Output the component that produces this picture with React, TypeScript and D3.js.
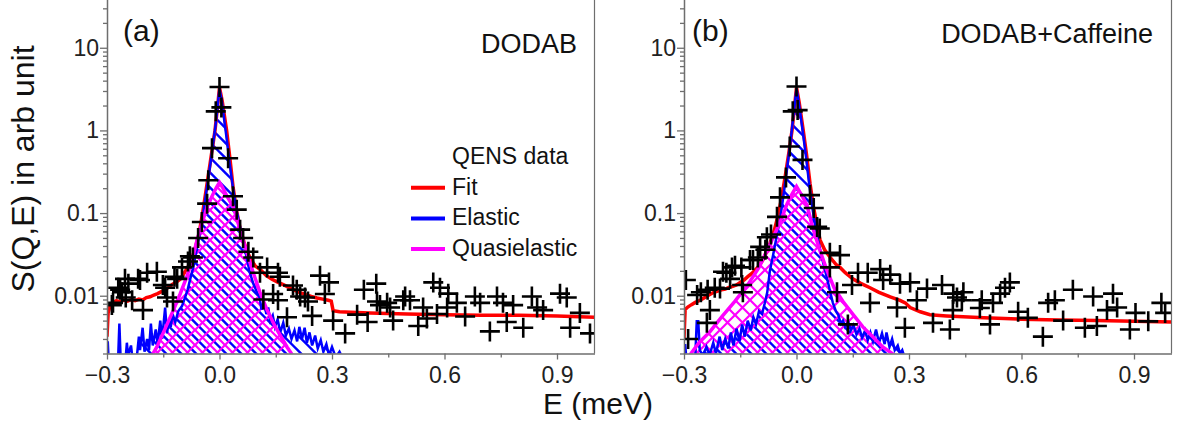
import React, { useRef, useEffect } from "react";
import * as d3 from "d3";

type Pt = [number, number];

const panelTags = ["(a)", "(b)"];
const sampleNames = ["DODAB", "DODAB+Caffeine"];
const legendLabels = ["QENS data", "Fit", "Elastic", "Quasielastic"];
const xTicks = [-0.3, 0, 0.3, 0.6, 0.9];
const xMinorTicks = [-0.15, 0.15, 0.45, 0.75];
const yTicks = [0.01, 0.1, 1, 10];
const yTickLabels = ["0.01", "0.1", "1", "10"];

// (a) DODAB  -- [E (meV), S(Q,E)]
const dataA: Pt[] = [
  [-0.287, 0.0077], [-0.284, 0.0082], [-0.27, 0.0125], [-0.265, 0.0118], [-0.26, 0.011], [-0.252, 0.016],
  [-0.25, 0.0095], [-0.243, 0.014], [-0.233, 0.0088], [-0.217, 0.016], [-0.212, 0.0155], [-0.204, 0.0067],
  [-0.193, 0.019], [-0.167, 0.0195], [-0.151, 0.0135], [-0.145, 0.0125], [-0.14, 0.0095], [-0.124, 0.0085],
  [-0.12, 0.017], [-0.113, 0.016], [-0.1, 0.022], [-0.084, 0.026], [-0.079, 0.03], [-0.071, 0.029],
  [-0.057, 0.05], [-0.047, 0.078], [-0.033, 0.13], [-0.03, 0.25], [-0.02, 0.61], [-0.01, 1.7],
  [0, 3.35], [0.005, 1.9], [0.023, 0.46], [0.036, 0.16], [0.046, 0.11], [0.055, 0.063],
  [0.063, 0.05], [0.077, 0.034], [0.09, 0.029], [0.108, 0.019], [0.117, 0.009], [0.127, 0.022],
  [0.143, 0.0105], [0.156, 0.019], [0.161, 0.017], [0.156, 0.0088], [0.18, 0.0055], [0.196, 0.0133],
  [0.206, 0.0118], [0.215, 0.0098], [0.228, 0.0095], [0.236, 0.0085], [0.247, 0.0057], [0.268, 0.0175],
  [0.281, 0.0105], [0.292, 0.0145], [0.303, 0.005], [0.335, 0.0035], [0.367, 0.0059], [0.385, 0.0118],
  [0.395, 0.0048], [0.418, 0.014], [0.42, 0.0085], [0.428, 0.0077], [0.447, 0.0082], [0.455, 0.0072],
  [0.463, 0.005], [0.49, 0.0088], [0.495, 0.0098], [0.508, 0.0088], [0.53, 0.0043], [0.543, 0.0072],
  [0.553, 0.0053], [0.57, 0.0145], [0.58, 0.006], [0.588, 0.0125], [0.607, 0.0072], [0.61, 0.0106],
  [0.633, 0.0082], [0.655, 0.0056], [0.681, 0.0098], [0.695, 0.0082], [0.721, 0.0037], [0.74, 0.0098],
  [0.756, 0.0082], [0.766, 0.0048], [0.783, 0.0077], [0.81, 0.0041], [0.833, 0.0098], [0.847, 0.0072],
  [0.863, 0.0067], [0.908, 0.0106], [0.926, 0.0095], [0.935, 0.0041], [0.961, 0.0062], [0.988, 0.0035],
];

const fitA: Pt[] = [
  [-0.3, 0.0032], [-0.297, 0.0062], [-0.292, 0.0075], [-0.285, 0.0082], [-0.275, 0.0087], [-0.265, 0.0084],
  [-0.255, 0.0089], [-0.245, 0.0086], [-0.235, 0.009], [-0.225, 0.0087], [-0.215, 0.0091], [-0.205, 0.0089],
  [-0.195, 0.0095], [-0.185, 0.0097], [-0.175, 0.0102], [-0.165, 0.0106], [-0.155, 0.0112], [-0.145, 0.0119],
  [-0.135, 0.0127], [-0.125, 0.0138], [-0.115, 0.0146], [-0.105, 0.0158], [-0.095, 0.0185], [-0.085, 0.022],
  [-0.075, 0.027], [-0.065, 0.037], [-0.055, 0.055], [-0.045, 0.1], [-0.035, 0.2], [-0.025, 0.4],
  [-0.012, 1.0], [-0.006, 1.8], [0, 3.3], [0.007, 2.3], [0.019, 1.0], [0.028, 0.45],
  [0.036, 0.21], [0.045, 0.11], [0.055, 0.065], [0.065, 0.045], [0.075, 0.033], [0.085, 0.027],
  [0.095, 0.023], [0.11, 0.0205], [0.125, 0.0175], [0.14, 0.0158], [0.155, 0.0146], [0.17, 0.0136],
  [0.185, 0.0126], [0.2, 0.0117], [0.215, 0.0109], [0.23, 0.0103], [0.245, 0.0098], [0.26, 0.0094],
  [0.275, 0.0091], [0.29, 0.0088], [0.298, 0.0086], [0.303, 0.0066], [0.32, 0.0064], [0.35, 0.0063],
  [0.4, 0.0062], [0.5, 0.006], [0.6, 0.0059], [0.7, 0.0058], [0.8, 0.0058], [0.9, 0.0057], [1.0, 0.0055],
];

const elasticA: Pt[] = [
  [-0.3, 0.0019], [-0.298, 0.0028], [-0.296, 0.0018], [-0.27, 0.0019], [-0.267, 0.0046], [-0.264, 0.0019],
  [-0.25, 0.0018], [-0.247, 0.0027], [-0.244, 0.0019], [-0.236, 0.0025], [-0.233, 0.0019], [-0.22, 0.0019],
  [-0.215, 0.0032], [-0.212, 0.0022], [-0.205, 0.0041], [-0.2, 0.0021], [-0.193, 0.003], [-0.188, 0.0022],
  [-0.183, 0.0046], [-0.178, 0.0025], [-0.17, 0.0039], [-0.165, 0.0026], [-0.158, 0.005], [-0.153, 0.003],
  [-0.145, 0.0072], [-0.14, 0.0035], [-0.135, 0.005], [-0.13, 0.0042], [-0.125, 0.006], [-0.118, 0.0048],
  [-0.11, 0.0065], [-0.1, 0.0075], [-0.092, 0.0095], [-0.085, 0.0118], [-0.078, 0.016], [-0.07, 0.022],
  [-0.062, 0.034], [-0.052, 0.058], [-0.042, 0.11], [-0.033, 0.21], [-0.024, 0.4], [-0.017, 0.7],
  [-0.01, 1.2], [-0.004, 2.2], [0, 3.2], [0.006, 2.3], [0.012, 1.4], [0.019, 0.8],
  [0.027, 0.4], [0.036, 0.2], [0.045, 0.11], [0.055, 0.068], [0.065, 0.042], [0.073, 0.028],
  [0.081, 0.019], [0.09, 0.014], [0.1, 0.011], [0.107, 0.0095], [0.112, 0.0068], [0.118, 0.0085],
  [0.125, 0.006], [0.13, 0.0072], [0.135, 0.005], [0.142, 0.0058], [0.148, 0.0042], [0.155, 0.0052],
  [0.162, 0.0036], [0.17, 0.0047], [0.177, 0.0033], [0.185, 0.004], [0.192, 0.003], [0.2, 0.0038],
  [0.207, 0.0028], [0.213, 0.0042], [0.22, 0.003], [0.227, 0.0041], [0.233, 0.0027], [0.24, 0.0036],
  [0.247, 0.0025], [0.255, 0.0033], [0.262, 0.0023], [0.27, 0.0029], [0.277, 0.0021], [0.285, 0.0026],
  [0.292, 0.0019], [0.3, 0.0024], [0.31, 0.0018], [0.32, 0.0021], [0.33, 0.0017],
];

const quasiA: Pt[] = [
  [-0.18, 0.0019], [-0.167, 0.0024], [-0.145, 0.004], [-0.123, 0.0067], [-0.105, 0.0105], [-0.087, 0.017],
  [-0.073, 0.027], [-0.06, 0.047], [-0.045, 0.08], [-0.033, 0.118], [-0.02, 0.16], [-0.008, 0.205],
  [0, 0.235], [0.008, 0.205], [0.02, 0.16], [0.037, 0.118], [0.05, 0.075], [0.063, 0.047],
  [0.077, 0.029], [0.09, 0.019], [0.108, 0.011], [0.127, 0.0067], [0.15, 0.0041], [0.18, 0.0024], [0.195, 0.0019],
];

// (b) DODAB+Caffeine
const dataB: Pt[] = [
  [-0.295, 0.0155], [-0.289, 0.003], [-0.265, 0.0102], [-0.255, 0.011], [-0.239, 0.0047], [-0.231, 0.0067],
  [-0.237, 0.0118], [-0.218, 0.0125], [-0.204, 0.0122], [-0.196, 0.0195], [-0.187, 0.019], [-0.177, 0.016],
  [-0.172, 0.022], [-0.164, 0.023], [-0.147, 0.022], [-0.145, 0.0135], [-0.143, 0.011], [-0.124, 0.027],
  [-0.116, 0.027], [-0.103, 0.029], [-0.097, 0.039], [-0.083, 0.036], [-0.079, 0.051], [-0.068, 0.055],
  [-0.052, 0.09], [-0.044, 0.155], [-0.028, 0.27], [-0.018, 0.64], [-0.01, 1.7], [0, 3.4],
  [0.003, 1.76], [0.016, 0.44], [0.036, 0.165], [0.046, 0.115], [0.055, 0.068], [0.062, 0.065],
  [0.089, 0.033], [0.116, 0.031], [0.089, 0.022], [0.108, 0.011], [0.137, 0.0045], [0.148, 0.0135],
  [0.164, 0.019], [0.19, 0.019], [0.196, 0.0082], [0.223, 0.021], [0.231, 0.0155], [0.25, 0.018],
  [0.268, 0.0072], [0.276, 0.014], [0.289, 0.0041], [0.303, 0.0145], [0.321, 0.0088], [0.348, 0.0122],
  [0.364, 0.0047], [0.388, 0.0135], [0.409, 0.0039], [0.417, 0.0067], [0.418, 0.0106], [0.428, 0.0095],
  [0.441, 0.0088], [0.445, 0.011], [0.489, 0.0071], [0.494, 0.0088], [0.516, 0.0045], [0.524, 0.0082],
  [0.543, 0.0106], [0.556, 0.0125], [0.569, 0.0145], [0.591, 0.0064], [0.617, 0.0054], [0.657, 0.0032],
  [0.671, 0.0082], [0.689, 0.0088], [0.711, 0.005], [0.737, 0.0118], [0.769, 0.0041], [0.791, 0.0098],
  [0.801, 0.0043], [0.828, 0.0067], [0.844, 0.0106], [0.855, 0.0072], [0.889, 0.0039], [0.904, 0.0062],
  [0.938, 0.0049], [0.973, 0.0082], [0.983, 0.0062],
];

const fitB: Pt[] = [
  [-0.3, 0.003], [-0.297, 0.0068], [-0.29, 0.0073], [-0.28, 0.0078], [-0.27, 0.0083], [-0.26, 0.0087],
  [-0.25, 0.0092], [-0.24, 0.0098], [-0.23, 0.0104], [-0.22, 0.011], [-0.21, 0.0114], [-0.2, 0.0118],
  [-0.19, 0.012], [-0.18, 0.0126], [-0.17, 0.013], [-0.16, 0.0135], [-0.15, 0.0145], [-0.14, 0.0155],
  [-0.13, 0.017], [-0.12, 0.0185], [-0.11, 0.0205], [-0.1, 0.023], [-0.09, 0.027], [-0.08, 0.034],
  [-0.07, 0.044], [-0.06, 0.06], [-0.052, 0.083], [-0.04, 0.15], [-0.03, 0.28], [-0.02, 0.55],
  [-0.012, 1.0], [-0.005, 2.0], [0, 3.3], [0.007, 2.2], [0.018, 1.0], [0.027, 0.5],
  [0.036, 0.23], [0.045, 0.12], [0.055, 0.07], [0.063, 0.047], [0.075, 0.036], [0.09, 0.029],
  [0.105, 0.024], [0.116, 0.022], [0.13, 0.019], [0.15, 0.016], [0.17, 0.0142], [0.196, 0.0125],
  [0.22, 0.011], [0.25, 0.0097], [0.276, 0.0088], [0.29, 0.0082], [0.303, 0.0072], [0.33, 0.0064],
  [0.356, 0.0059], [0.4, 0.0057], [0.43, 0.0056], [0.5, 0.0054], [0.6, 0.0052], [0.7, 0.0051],
  [0.8, 0.005], [0.9, 0.0049], [1.0, 0.0048],
];

const elasticB: Pt[] = [
  [-0.3, 0.0018], [-0.297, 0.0026], [-0.294, 0.0018], [-0.27, 0.0018], [-0.266, 0.0049], [-0.262, 0.0049],
  [-0.258, 0.0022], [-0.25, 0.0019], [-0.24, 0.0024], [-0.232, 0.0019], [-0.222, 0.0027], [-0.215, 0.002],
  [-0.205, 0.0032], [-0.198, 0.0022], [-0.19, 0.003], [-0.182, 0.0023], [-0.175, 0.0036], [-0.168, 0.0025],
  [-0.16, 0.004], [-0.152, 0.0028], [-0.145, 0.0045], [-0.138, 0.0032], [-0.13, 0.005], [-0.122, 0.0038],
  [-0.115, 0.0055], [-0.108, 0.0045], [-0.1, 0.0065], [-0.092, 0.006], [-0.085, 0.008], [-0.078, 0.011],
  [-0.071, 0.02], [-0.063, 0.03], [-0.052, 0.055], [-0.044, 0.083], [-0.035, 0.16], [-0.025, 0.35],
  [-0.015, 0.8], [-0.007, 1.7], [0, 3.2], [0.006, 2.2], [0.015, 1.1], [0.025, 0.5],
  [0.034, 0.22], [0.043, 0.11], [0.052, 0.062], [0.062, 0.038], [0.072, 0.024], [0.082, 0.016],
  [0.09, 0.011], [0.097, 0.0082], [0.105, 0.0065], [0.112, 0.0058], [0.118, 0.0046], [0.124, 0.005],
  [0.13, 0.0042], [0.138, 0.0048], [0.145, 0.0038], [0.152, 0.0044], [0.16, 0.0034], [0.168, 0.004],
  [0.175, 0.0031], [0.183, 0.0038], [0.19, 0.0029], [0.197, 0.0036], [0.204, 0.0028], [0.212, 0.0039],
  [0.22, 0.0027], [0.228, 0.0035], [0.235, 0.0026], [0.24, 0.0036], [0.248, 0.0024], [0.255, 0.003],
  [0.262, 0.0022], [0.27, 0.0025], [0.276, 0.002], [0.282, 0.0022], [0.288, 0.0018],
];

const quasiB: Pt[] = [
  [-0.285, 0.0019], [-0.26, 0.0027], [-0.23, 0.0037], [-0.2, 0.0055], [-0.165, 0.0085], [-0.13, 0.0135],
  [-0.1, 0.022], [-0.075, 0.038], [-0.055, 0.06], [-0.04, 0.085], [-0.025, 0.13], [-0.012, 0.17],
  [0, 0.21], [0.012, 0.17], [0.028, 0.125], [0.044, 0.065], [0.06, 0.038], [0.08, 0.021],
  [0.1, 0.0125], [0.124, 0.0085], [0.15, 0.006], [0.177, 0.0042], [0.2, 0.0033], [0.23, 0.0024],
  [0.255, 0.002], [0.27, 0.0018],
];

const FONT = "'Liberation Sans', Arial, Helvetica, sans-serif";
const AXIS = "#6e6e6e";

export default function App() {
  const ref = useRef<SVGSVGElement>(null);

  useEffect(() => {
    const svg = d3.select(ref.current);
    svg.selectAll("*").remove();

    const W = 487.5;
    const top = -2;
    const bottom = 353.5;
    const panels = [
      { left: 107, data: dataA, fit: fitA, elastic: elasticA, quasi: quasiA, tagX: 123, tagY: 41, nameX: 577, nameY: 53 },
      { left: 684, data: dataB, fit: fitB, elastic: elasticB, quasi: quasiB, tagX: 692, tagY: 41, nameX: 1153, nameY: 43 },
    ];

    // hatch patterns: blue "\" lines, magenta cross-hatch, offset by half a period
    const defs = svg.append("defs");
    const P = 15;
    const h = P / 2;
    const pb = defs.append("pattern").attr("id", "hatchBlue")
      .attr("patternUnits", "userSpaceOnUse").attr("width", P).attr("height", P);
    pb.append("path")
      .attr("d", `M${h - 1},-1 L${P + 1},${h + 1} M-1,${h - 1} L${h + 1},${P + 1}`)
      .attr("stroke", "#0000ff").attr("stroke-width", 2.3);
    const pm = defs.append("pattern").attr("id", "hatchMag")
      .attr("patternUnits", "userSpaceOnUse").attr("width", P).attr("height", P);
    pm.append("path")
      .attr("d", `M-1,-1 L${P + 1},${P + 1} M${P - 1},-1 L${P + 1},1 M-1,${P - 1} L1,${P + 1} ` +
        `M-1,${P + 1} L${P + 1},-1 M-1,1 L1,-1 M${P - 1},${P + 1} L${P + 1},${P - 1}`)
      .attr("stroke", "#ff00ff").attr("stroke-width", 2.2);

    const y = d3.scaleLog().domain([0.002, 40]).range([bottom, top]);
    const yMinor: number[] = [];
    [0.001, 0.01, 0.1, 1, 10].forEach(dec => {
      for (let k = 2; k <= 9; k++) {
        const v = dec * k;
        if (v >= 0.002 && v <= 40) yMinor.push(v);
      }
    });

    panels.forEach((p, i) => {
      const x = d3.scaleLinear().domain([-0.3, 1.0]).range([p.left, p.left + W]);
      const clipId = `plotclip${i}`;
      defs.append("clipPath").attr("id", clipId).append("rect")
        .attr("x", p.left).attr("y", top).attr("width", W).attr("height", bottom - top);

      const plot = svg.append("g").attr("clip-path", `url(#${clipId})`);
      const line = d3.line<Pt>().x(d => x(d[0])).y(d => y(d[1]));
      const area = d3.area<Pt>().x(d => x(d[0])).y0(bottom + 3).y1(d => y(d[1]));

      plot.append("path").datum(p.elastic).attr("d", area).attr("fill", "url(#hatchBlue)");
      plot.append("path").datum(p.quasi).attr("d", area).attr("fill", "url(#hatchMag)");

      plot.append("path").datum(p.fit).attr("d", line)
        .attr("fill", "none").attr("stroke", "#ff0000").attr("stroke-width", 3.5);
      plot.append("path").datum(p.elastic).attr("d", line)
        .attr("fill", "none").attr("stroke", "#0000ff").attr("stroke-width", 2.5);
      plot.append("path").datum(p.quasi).attr("d", line)
        .attr("fill", "none").attr("stroke", "#ff00ff").attr("stroke-width", 3.5);

      plot.selectAll("path.cross").data(p.data).enter().append("path")
        .attr("class", "cross")
        .attr("transform", d => `translate(${x(d[0])},${y(d[1])})`)
        .attr("d", "M-10,0H10M0,-10V10")
        .attr("stroke", "#000").attr("stroke-width", 2.6).attr("fill", "none");

      // axes
      const gy = svg.append("g").attr("transform", `translate(${p.left},0)`);
      gy.call(d3.axisLeft(y).tickValues(yMinor).tickSize(4).tickSizeOuter(0).tickFormat(() => ""));
      gy.call(g => g.select(".domain").remove());
      const gy2 = svg.append("g").attr("transform", `translate(${p.left},0)`);
      gy2.call(d3.axisLeft(y).tickValues(yTicks).tickSize(7).tickSizeOuter(0).tickPadding(1)
        .tickFormat((_d, k) => yTickLabels[k]));

      const gx = svg.append("g").attr("transform", `translate(0,${bottom})`);
      gx.call(d3.axisBottom(x).tickValues(xMinorTicks).tickSize(4).tickSizeOuter(0).tickFormat(() => ""));
      gx.call(g => g.select(".domain").remove());
      const gx2 = svg.append("g").attr("transform", `translate(0,${bottom})`);
      gx2.call(d3.axisBottom(x).tickValues(xTicks).tickSize(6).tickSizeOuter(0).tickPadding(7)
        .tickFormat(d3.format(".1f")));

      [gy, gy2, gx, gx2].forEach(g => {
        g.selectAll("line").attr("stroke", AXIS).attr("stroke-width", 1.3);
        g.selectAll(".domain").attr("stroke", AXIS).attr("stroke-width", 1.5);
        g.selectAll("text").attr("fill", "#222").attr("font-size", 23).attr("font-family", FONT);
      });

      svg.append("line")
        .attr("x1", p.left + W).attr("x2", p.left + W).attr("y1", top).attr("y2", bottom)
        .attr("stroke", AXIS).attr("stroke-width", 1.2);

      svg.append("text").attr("x", p.tagX).attr("y", p.tagY).text(panelTags[i])
        .attr("font-size", 30).attr("font-family", FONT).attr("fill", "#111");
      svg.append("text").attr("x", p.nameX).attr("y", p.nameY).text(sampleNames[i])
        .attr("text-anchor", "end").attr("font-size", 27).attr("font-family", FONT).attr("fill", "#111");
    });

    // legend in panel (a)
    const legendColors = [null, "#ff0000", "#0000ff", "#ff00ff"];
    legendLabels.forEach((lab, k) => {
      const base = 164 + k * 30.7;
      svg.append("text").attr("x", 452).attr("y", base).text(lab)
        .attr("font-size", 23).attr("font-family", FONT).attr("fill", "#111");
      const c = legendColors[k];
      if (c) {
        svg.append("line").attr("x1", 411).attr("x2", 445).attr("y1", base - 7).attr("y2", base - 7)
          .attr("stroke", c).attr("stroke-width", 4);
      }
    });

    // axis titles
    svg.append("text").attr("transform", "translate(34,169) rotate(-90)")
      .attr("text-anchor", "middle").text("S(Q,E) in arb unit")
      .attr("font-size", 32).attr("font-family", FONT).attr("fill", "#111");
    svg.append("text").attr("x", 598).attr("y", 414).attr("text-anchor", "middle")
      .text("E (meV)").attr("font-size", 30).attr("font-family", FONT).attr("fill", "#111");
  }, []);

  return (
    <svg ref={ref} width={1182} height={433}
      style={{ position: "absolute", left: 0, top: 0, background: "#fff" }} />
  );
}
